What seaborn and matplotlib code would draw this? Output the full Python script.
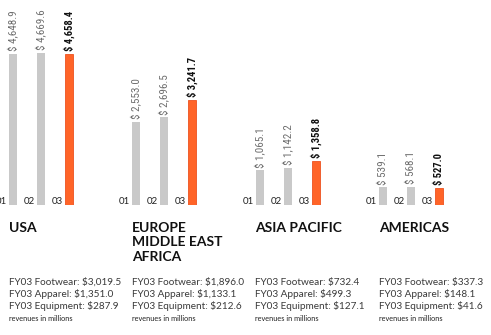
import matplotlib
matplotlib.use("Agg")
import matplotlib.pyplot as plt
import matplotlib.transforms as mtransforms
import seaborn as sns
import pandas as pd

# ---- data ----
regions = ["USA", "EUROPE\nMIDDLE EAST\nAFRICA", "ASIA PACIFIC", "AMERICAS"]
years = ["01", "02", "03"]
usa = [4648.9, 4669.6, 4658.4]
emea = [2553.0, 2696.5, 3241.7]
asia = [1065.1, 1142.2, 1358.8]
americas = [539.1, 568.1, 527.0]
footwear = [3019.5, 1896.0, 732.4, 337.3]
apparel = [1351.0, 1133.1, 499.3, 148.1]
equipment = [287.9, 212.6, 127.1, 41.6]
note = "revenues in millions"

series = [usa, emea, asia, americas]

# ---- style ----
sns.set_style("white")
plt.rcParams["font.family"] = ["Lato", "DejaVu Sans"]

W, H = 491, 335
fig = plt.figure(figsize=(W / 100, H / 100), dpi=100)

gray = "#c9c9c9"
orange = "#ff6428"
scale = 0.0325            # px per million
step = 28                 # px between bars
first_centers = [13, 136, 260, 383]
lefts = [9, 132, 255, 379]
base_px = 205

def fx(px):
    return px / W

def fy(px):
    return 1 - px / H

for k, vals in enumerate(series):
    left_px = first_centers[k] - 0.5 * step
    ax = fig.add_axes([fx(left_px), fy(base_px), 3 * step / W, base_px / H])
    df = pd.DataFrame({"year": years, "value": vals})
    sns.barplot(data=df, x="year", y="value", hue="year", order=years,
                palette=[gray, gray, orange], saturation=1, width=0.29,
                legend=False, ax=ax)
    for j, p in enumerate(ax.patches):
        if j == 2:
            p.set_edgecolor("#ec5220")
            p.set_linewidth(0.6)
        else:
            p.set_edgecolor(gray)
            p.set_linewidth(0)
    ax.set_xlim(-0.5, 2.5)
    ax.set_ylim(0, base_px / scale)
    ax.set_axis_off()
    trans = mtransforms.blended_transform_factory(ax.transData, ax.transAxes)
    for j, (yr, v) in enumerate(zip(years, vals)):
        bold = j == 2
        ax.annotate(f"$ {v:,.1f}", xy=(j, v), xytext=(0, 2),
                    textcoords="offset points", rotation=90,
                    ha="center", va="bottom",
                    fontsize=7.6 if bold else 8,
                    fontweight="bold" if bold else "normal",
                    color="#111111" if bold else "#6e6e6e",
                    family=["Roboto Condensed", "Roboto", "DejaVu Sans"],
                    annotation_clip=False)
        ax.text(j - 0.145 - 0.07, 0.005, yr, transform=trans, ha="right",
                va="baseline", fontsize=7, color="#222222", clip_on=False)

    # region title
    for li, line in enumerate(regions[k].split("\n")):
        fig.text(fx(lefts[k]), fy(232 + li * 14.4), line, ha="left",
                 va="baseline", fontsize=10, fontweight="bold",
                 color="#111111")
    # detail lines
    lines = [f"FY03 Footwear: ${footwear[k]:,.1f}",
             f"FY03 Apparel: ${apparel[k]:,.1f}",
             f"FY03 Equipment: ${equipment[k]:,.1f}"]
    for li, line in enumerate(lines):
        fig.text(fx(lefts[k]), fy(285 + li * 12), line, ha="left",
                 va="baseline", fontsize=7.2, fontweight="normal",
                 color="#3a3a3a")
    fig.text(fx(lefts[k]), fy(321), note, ha="left", va="baseline",
             fontsize=5.3, color="#222222")

fig.savefig("out.png", dpi=100, facecolor="white")
